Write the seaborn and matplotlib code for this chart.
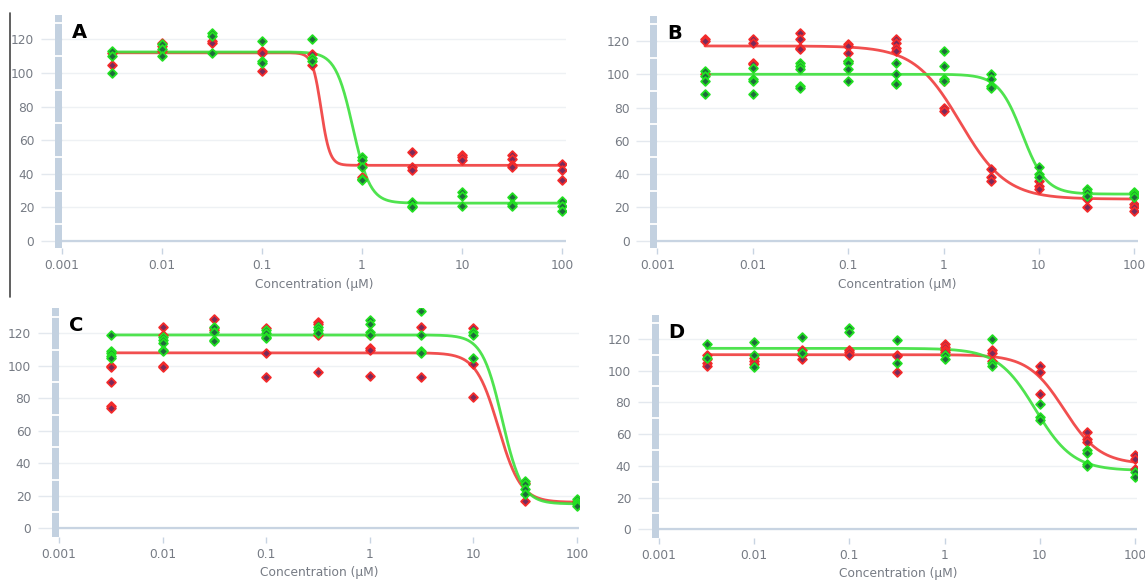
import numpy as np
import pandas as pd
import matplotlib
matplotlib.use("Agg")
import matplotlib.pyplot as plt
import seaborn as sns
from matplotlib.lines import Line2D
from matplotlib.patches import Rectangle
from matplotlib.transforms import blended_transform_factory

# ---------------- data ----------------
conc = [0.00316, 0.01, 0.0316, 0.1, 0.316, 1, 3.16, 10, 31.6, 100]
xtick_vals = [0.001, 0.01, 0.1, 1, 10, 100]
xtick_labels = ["0.001", "0.01", "0.1", "1", "10", "100"]
ytick_vals = [0, 20, 40, 60, 80, 100, 120]

A_red = [[112, 105], [118, 116, 113], [119, 118], [113, 112, 101], [111, 105],
         [46, 38, 37], [53, 44, 42], [51, 50, 48], [51, 49, 45, 44], [46, 42, 36]]
A_green = [[113, 110, 100], [117, 114, 110], [124, 122, 112], [119, 107, 106], [120, 109, 107],
           [50, 48, 44, 37, 36], [23, 21, 20], [29, 27, 21], [26, 22, 21], [24, 21, 18]]

B_red = [[121, 120, 100], [121, 119, 107, 106], [125, 121, 116, 115], [118, 117, 113, 108],
         [121, 119, 116, 114], [96, 80, 78], [43, 38, 36], [36, 33, 31], [25, 20], [22, 20, 18]]
B_green = [[102, 99, 96, 88], [104, 97, 96, 88], [107, 105, 103, 93, 92], [108, 107, 103, 96],
           [107, 100, 95, 94], [114, 105, 97, 96], [100, 97, 93, 92], [44, 40, 38], [31, 29, 27], [29, 28, 26]]

C_red = [[100, 99, 90, 75, 74], [124, 119, 100, 99], [129, 123, 122], [123, 108, 93],
         [127, 126, 119, 96], [119, 111, 110, 94], [124, 93], [123, 101, 81], [28, 17], [17, 16]]
C_green = [[119, 109, 108, 106, 105], [118, 116, 114, 110, 109], [124, 121, 116, 115],
           [122, 120, 118, 117], [124, 122, 120], [128, 126, 121, 119], [134, 119, 109, 108],
           [121, 119, 105], [29, 27, 24, 21], [18, 16, 15, 14]]

D_red = [[110, 107, 105, 103], [108, 106, 104], [113, 110, 107], [113, 112, 110], [110, 109, 99],
         [117, 115, 113, 112], [113, 111, 106], [103, 99, 85], [61, 57, 55], [47, 44, 38]]
D_green = [[117, 108], [118, 110, 102], [121, 111], [127, 124], [119, 105], [110, 107],
           [120, 105, 103], [79, 71, 69], [50, 48, 41, 40], [36, 33]]

# fitted 4-parameter logistic curves: (top, bottom, IC50, hill)
A_red_fit = (112, 45, 0.39, 10)
A_green_fit = (112.5, 22.5, 0.81, 5)
B_red_fit = (117, 25, 1.5, 1.8)
B_green_fit = (100, 28, 6.7, 3.5)
C_red_fit = (108, 16, 17.5, 4)
C_green_fit = (119, 15, 19, 4.5)
D_red_fit = (110, 41, 18, 2.3)
D_green_fit = (114, 37, 9, 2.2)

panel_letters = ["A", "B", "C", "D"]
xlabel_text = "Concentration (µM)"

# ---------------- style ----------------
W, H = 1145, 581
sns.set_theme(style="white")
plt.rcParams["font.family"] = ["DejaVu Sans"]

RED_LINE = "#f03c3c"
GREEN_LINE = "#3ce03c"
RED_FACE, RED_EDGE = "#7a2a5a", "#f42a2a"
GREEN_FACE, GREEN_EDGE = "#1f6a3c", "#22e022"
TICK_COL = "#767b84"
BAR_COL = "#c3d1e0"
ZERO_COL = "#c8d4e2"
GRID_COL = "#eef1f4"

# pixel boxes: left, top, right, bottom ; xlim right ; ylim
panels = [
    dict(box=(62, 15, 566, 248.3), xr=109.6, yl=(-4.4, 134.5), red=A_red, green=A_green,
         rfit=A_red_fit, gfit=A_green_fit),
    dict(box=(657.3, 16, 1137.7, 248), xr=108.5, yl=(-4.4, 135), red=B_red, green=B_green,
         rfit=B_red_fit, gfit=B_green_fit),
    dict(box=(59, 308, 579, 536.7), xr=105, yl=(-5.2, 135.6), red=C_red, green=C_green,
         rfit=C_red_fit, gfit=C_green_fit),
    dict(box=(659, 315, 1137, 537.7), xr=105, yl=(-5.3, 135), red=D_red, green=D_green,
         rfit=D_red_fit, gfit=D_green_fit),
]

fig = plt.figure(figsize=(W / 100, H / 100), dpi=100)


def long_df(values):
    rows = []
    for c, reps in zip(conc, values):
        for v in reps:
            rows.append((c, v))
    return pd.DataFrame(rows, columns=["conc", "value"])


def curve_df(fit):
    top, bottom, ic50, hill = fit
    xs = np.logspace(np.log10(conc[0]), np.log10(conc[-1]), 400)
    ys = bottom + (top - bottom) / (1 + (xs / ic50) ** hill)
    return pd.DataFrame({"conc": xs, "value": ys})


for i, p in enumerate(panels):
    l, t, r, b = p["box"]
    ax = fig.add_axes([l / W, 1 - b / H, (r - l) / W, (b - t) / H])
    ax.set_xscale("log")
    ax.set_xlim(0.001, p["xr"])
    ax.set_ylim(*p["yl"])

    # curves
    sns.lineplot(data=curve_df(p["rfit"]), x="conc", y="value", color=RED_LINE, lw=2.0,
                 alpha=0.9, ax=ax, zorder=3)
    sns.lineplot(data=curve_df(p["gfit"]), x="conc", y="value", color=GREEN_LINE, lw=2.0,
                 alpha=0.9, ax=ax, zorder=3)
    # points
    sns.scatterplot(data=long_df(p["red"]), x="conc", y="value", marker="D", s=20,
                    color=RED_FACE, edgecolor=RED_EDGE, linewidth=1.3, ax=ax, zorder=4)
    sns.scatterplot(data=long_df(p["green"]), x="conc", y="value", marker="D", s=20,
                    color=GREEN_FACE, edgecolor=GREEN_EDGE, linewidth=1.3, ax=ax, zorder=5)

    # axes styling
    for s in ax.spines.values():
        s.set_visible(False)
    ax.set_xticks(xtick_vals)
    ax.set_xticklabels(xtick_labels)
    ax.xaxis.set_minor_locator(matplotlib.ticker.NullLocator())
    ax.set_yticks(ytick_vals)
    ax.tick_params(axis="x", which="major", bottom=True, length=4, width=1, color=ZERO_COL,
                   labelsize=8.8, labelcolor=TICK_COL, pad=4)
    ax.tick_params(axis="y", which="major", left=True, length=15, width=1, color="#e3e8ee",
                   labelsize=8.8, labelcolor=TICK_COL, pad=5)
    ax.grid(axis="y", color=GRID_COL, lw=1)
    ax.grid(axis="x", visible=False)
    ax.axhline(0, color=ZERO_COL, lw=1.6, zorder=2)
    ax.set_xlabel(xlabel_text, fontsize=8.8, color=TICK_COL, labelpad=4)
    ax.set_ylabel("")

    # grey bar on the left with white gaps
    trans = blended_transform_factory(ax.transAxes, ax.transData)
    bw = 7.5 / (r - l)
    y0, y1 = p["yl"]
    ax.add_patch(Rectangle((-bw, y0), bw, y1 - y0, transform=trans, facecolor=BAR_COL,
                           edgecolor="none", clip_on=False, zorder=6))
    for g in [10, 30, 50, 70, 90, 110, 130]:
        ax.add_line(Line2D([-bw, 0], [g, g], transform=trans, color="white", lw=1.3,
                           clip_on=False, zorder=7))

    ax.text(0.02, 0.965, panel_letters[i], transform=ax.transAxes, fontsize=14,
            fontweight="bold", color="black", ha="left", va="top", zorder=8)

# thin dark vertical line at left of panel A
fig.add_artist(Line2D([10.5 / W, 10.5 / W], [1 - 13 / H, 1 - 297 / H], color="#444444", lw=1.2))

fig.savefig("out.png", dpi=100)
